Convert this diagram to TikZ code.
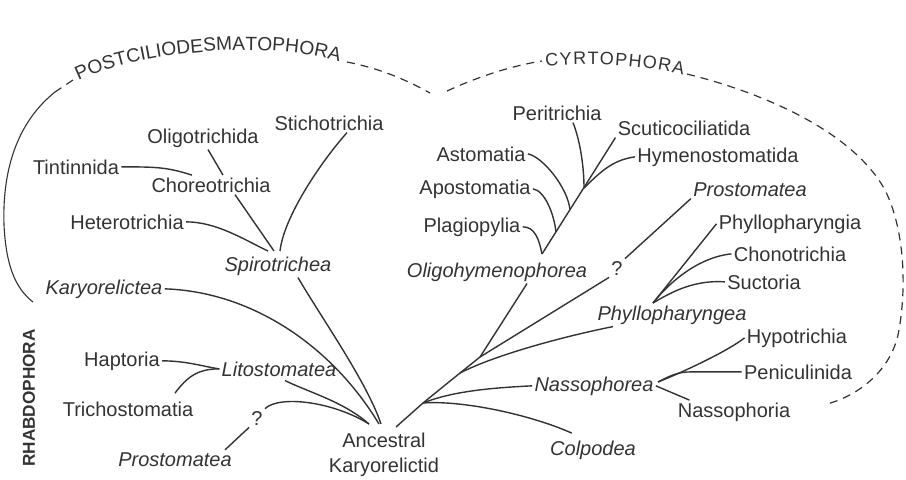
\documentclass[tikz,border=0pt]{standalone}
\usepackage{fontspec}
\setmainfont{Liberation Sans}
\usetikzlibrary{decorations.text}
\definecolor{tinta}{gray}{0.2}

\begin{document}
\begin{tikzpicture}[x=0.5pt, y=-0.5pt,
    every node/.style={font=\fontsize{10}{12.5}\selectfont, text=tinta, anchor=base, inner sep=1pt},
    clase/.style={font=\fontsize{10}{12.5}\selectfont\itshape},
    rama/.style={draw=tinta, line width=0.7pt},
    grupo/.style={draw=tinta, line width=0.6pt, dash pattern=on 4pt off 3pt}]

\useasboundingbox (0,0) rectangle (906,479);

% =============================================
% Grupos (lineas discontinuas y rotulos curvos)
% =============================================
\path[decorate, decoration={text along path, text color=tinta,
    text={|\fontsize{9.6}{10}\selectfont|POSTCILIODESMATOPHORA}, text align=center}]
    (74,83) .. controls (122,56) and (258,36) .. (344,63);
\path[decorate, decoration={text along path, text color=tinta,
    text={|\fontsize{9}{10}\selectfont|CYRTOPHORA}, text align={fit to path}}]
    (546,67) .. controls (590,62) and (640,65) .. (683,75);

\draw[grupo] (73,80) -- (55,92);
\draw[draw=tinta, line width=0.55pt] (55,92) .. controls (20,120) and (2,165) .. (4,225)
    .. controls (6,265) and (15,288) .. (33,302);
\draw[grupo] (347,62) .. controls (378,68) and (405,79) .. (430,93);
\draw[grupo] (447,91) .. controls (475,78) and (510,66) .. (542,61);
\draw[grupo] (687,74) .. controls (760,92) and (852,130) .. (885,190)
    .. controls (905,230) and (907,290) .. (898,335)
    .. controls (890,370) and (860,395) .. (827,404);

\node[anchor=center, rotate=90, font=\bfseries\fontsize{8.6}{8.6}\selectfont] (rhabdo) at (29,398) {RHABDOPHORA};

% =============================================
% Rotulos de los taxones
% =============================================
\node (stich) at (329,130) {Stichotrichia};
\node (oligotri) at (203,143) {Oligotrichida};
\node (tint) at (76,174) {Tintinnida};
\node (choreo) at (211,192) {Choreotrichia};
\node (hetero) at (127,229) {Heterotrichia};
\node[clase] (spiro) at (278,271) {Spirotrichea};
\node[clase] (karyo) at (104,294) {Karyorelictea};
\node (hapt) at (122,366) {Haptoria};
\node[clase] (lito) at (279,376) {Litostomatea};
\node (tricho) at (128,416) {Trichostomatia};
\node (qL) at (257,425) {?};
\node[clase] (prostL) at (175,466) {Prostomatea};
\node[anchor=north, align=center] (anc) at (384,431) {Ancestral\\Karyorelictid};

\node (peri) at (557,120) {Peritrichia};
\node (scut) at (684,135) {Scuticociliatida};
\node (astom) at (481,161) {Astomatia};
\node (hymen) at (718,162) {Hymenostomatida};
\node (apost) at (475,194) {Apostomatia};
\node (plagio) at (472,232) {Plagiopylia};
\node[clase] (prostR) at (750,196) {Prostomatea};
\node (phyllia) at (790,229) {Phyllopharyngia};
\node (chono) at (790,261) {Chonotrichia};
\node (suct) at (764,289) {Suctoria};
\node[clase] (oligohy) at (497,277) {Oligohymenophorea};
\node (qR) at (617,275) {?};
\node[clase] (phyllea) at (672,320) {Phyllopharyngea};
\node (hypo) at (797,343) {Hypotrichia};
\node (penic) at (798,379) {Peniculinida};
\node[clase] (nasso) at (594,391) {Nassophorea};
\node (nassoph) at (734,417) {Nassophoria};
\node[clase] (colp) at (593,455) {Colpodea};

% Puntos de union
\coordinate (jSpiro) at (276,251);
\coordinate (jAnc) at (381,424);
\coordinate (jAncR) at (396,427);
\coordinate (jR1) at (423,403);
\coordinate (jR2) at (460,373);
\coordinate (jR3) at (480,357);
\coordinate (jO0) at (542,254);
\coordinate (jO1) at (556,232);
\coordinate (jO2) at (570,210);
\coordinate (jO3) at (584,188);
\coordinate (jPh) at (653,303);
\coordinate (jNa) at (658,382);

% =============================================
% Ramas: lado izquierdo
% =============================================
\draw[rama] (tint.east) .. controls +(35,0) and +(-25,-8) .. ([xshift=-9.5pt]choreo.north);
\draw[rama] ([xshift=2.5pt]oligotri.south) -- ([xshift=6pt]choreo.north);
\draw[rama] ([xshift=12pt]choreo.south) -- ([xshift=-1pt]jSpiro);
\draw[rama] ([xshift=9pt]stich.south) .. controls +(-25,28) and +(4,-35) .. ([xshift=2pt]jSpiro);
\draw[rama] (hetero.east) .. controls +(30,0) and +(-25,-12) .. ([xshift=-4pt]jSpiro);

\draw[rama] ([xshift=10pt]spiro.south) .. controls +(22,38) and +(-14,-42) .. (jAnc);
\draw[rama] (karyo.east) .. controls +(90,3) and +(-45,-75) .. ([xshift=-1pt]jAnc);
\draw[rama] (hapt.east) .. controls +(25,0) and +(-15,-2) .. (lito.west);
\draw[rama] ([xshift=23.5pt, yshift=3pt]tricho.north) .. controls +(12,-16) and +(-22,0) .. (lito.west);
\draw[rama] ([xshift=3pt, yshift=-1pt]lito.south) .. controls +(25,12) and +(-25,-22) .. ([xshift=-6pt]jAnc);
\draw[rama] ([xshift=25pt]prostL.north) -- (qL.south west);
\draw[rama] (qL.north east) .. controls +(15,-14) and +(-35,-22) .. ([xshift=-6pt]jAnc);

% =============================================
% Ramas: lado derecho
% =============================================
\draw[rama] (jAncR) -- (jR1) -- (jR2) -- (jR3) -- ([xshift=15pt]oligohy.south);
\draw[rama] (jR3) -- (qR.south west);
\draw[rama] (qR.north east) -- (prostR.south west);
\draw[rama] (jR2) .. controls +(35,-18) and +(-50,10) .. ([xshift=9pt]phyllea.south west);
\draw[rama] (jR1) .. controls +(30,-12) and +(-40,2) .. (nasso.west);
\draw[rama] (jR1) .. controls +(40,-3) and +(-40,-18) .. ([xshift=12pt, yshift=2.5pt]colp.north west);

% Oligohymenophorea
\draw[rama] (jO0) -- (scut.south west);
\draw[rama] (plagio.east) .. controls +(12,0) and +(-3,-15) .. (jO0);
\draw[rama] (apost.east) .. controls +(12,2) and +(-2,-18) .. (jO1);
\draw[rama] (astom.east) .. controls +(15,3) and +(-2,-22) .. (jO2);
\draw[rama] ([xshift=8pt]peri.south) .. controls +(6,15) and +(0,-25) .. (jO3);
\draw[rama] (hymen.west) .. controls +(-20,3) and +(20,-20) .. (jO3);

% Phyllopharyngea
\draw[rama] (phyllia.west) -- (jPh);
\draw[rama] (chono.west) .. controls +(-30,3) and +(20,-25) .. (jPh);
\draw[rama] (suct.west) .. controls +(-30,-2) and +(20,-12) .. (jPh);

% Nassophorea
\draw[rama] (hypo.west) .. controls +(-15,12) and +(30,-12) .. (jNa);
\draw[rama] (penic.west) -- ++(-50,0) .. controls +(-15,0) and +(12,-6) .. (jNa);
\draw[rama] ([xshift=7pt]nassoph.north west) -- (nasso.east);

\end{tikzpicture}
\end{document}
